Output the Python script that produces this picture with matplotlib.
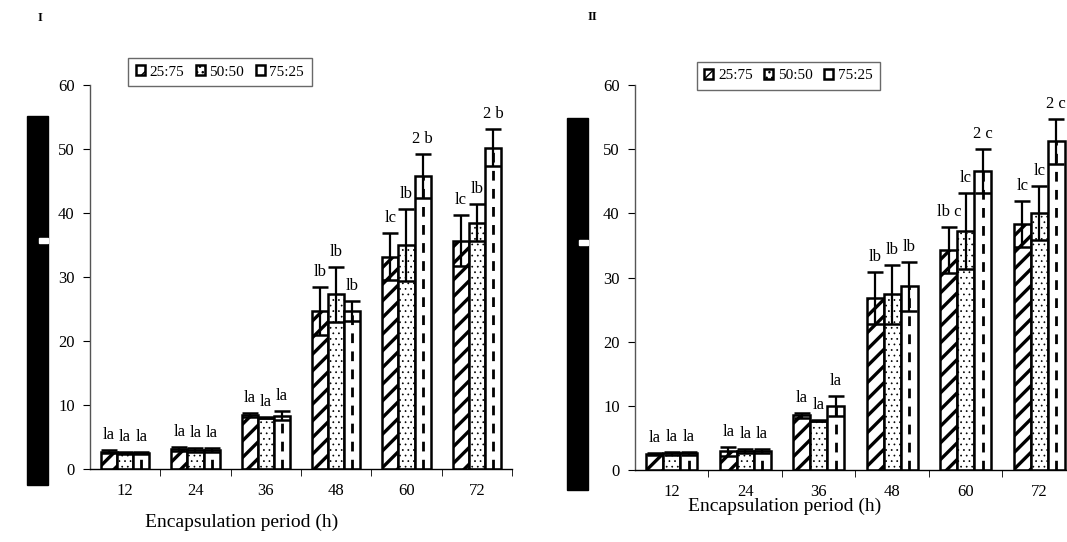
import numpy as np
import matplotlib
matplotlib.use("Agg")
import matplotlib.pyplot as plt
from matplotlib.patches import Rectangle

plt.rcParams['font.family'] = ['Liberation Serif', 'DejaVu Serif']

# DATA
periods = ['12', '24', '36', '48', '60', '72']
ratios = ['25:75', '50:50', '75:25']

# panel I
vals_1_a = [2.7, 3.1, 8.4, 24.7, 33.2, 35.7]
vals_1_b = [2.5, 3.0, 8.0, 27.3, 35.0, 38.5]
vals_1_c = [2.5, 3.0, 8.3, 24.7, 45.8, 50.2]
err_1_a = [0.2, 0.3, 0.3, 3.8, 3.7, 4.0]
err_1_b = [0.1, 0.3, 0.1, 4.3, 5.6, 2.9]
err_1_c = [0.1, 0.3, 0.7, 1.5, 3.4, 2.9]
lab_1_a = ['la', 'la', 'la', 'lb', 'lc', 'lc']
lab_1_b = ['la', 'la', 'la', 'lb', 'lb', 'lb']
lab_1_c = ['la', 'la', 'la', 'lb', '2 b', '2 b']

# panel II
vals_2_a = [2.5, 2.9, 8.5, 26.8, 34.3, 38.3]
vals_2_b = [2.6, 3.0, 7.7, 27.4, 37.2, 40.1]
vals_2_c = [2.6, 3.0, 10.0, 28.6, 46.6, 51.2]
err_2_a = [0.2, 0.7, 0.4, 4.0, 3.6, 3.6]
err_2_b = [0.2, 0.3, 0.1, 4.6, 5.9, 4.2]
err_2_c = [0.2, 0.3, 1.6, 3.8, 3.4, 3.5]
lab_2_a = ['la', 'la', 'la', 'lb', 'lb c', 'lc']
lab_2_b = ['la', 'la', 'la', 'lb', 'lc', 'lc']
lab_2_c = ['la', 'la', 'la', 'lb', '2 c', '2 c']

W = 0.23


def draw_panel(ax, vals, errs, labs):
    x = np.arange(len(periods))
    hatches = ['//', '...', '']
    hatch_lw = [2.4, 0.5, 1.0]
    for k in range(3):
        xs = x + (k - 1) * W
        plt.rcParams['hatch.linewidth'] = hatch_lw[k]
        ax.bar(xs, vals[k], W, color='white', edgecolor='black',
               linewidth=1.8, hatch=hatches[k], label=ratios[k], zorder=2)
        if k == 2:
            # dashed centre line of the 75:25 bars
            ax.vlines(xs, 0, vals[k], colors='black', linestyles=(0, (3.5, 3)),
                      linewidth=2, zorder=3)
        ax.errorbar(xs, vals[k], yerr=errs[k], fmt='none', ecolor='black',
                    elinewidth=1.6, capsize=6, capthick=1.8, zorder=4)
        for xi, v, e, t in zip(xs, vals[k], errs[k], labs[k]):
            ax.annotate(t, (xi, v + e), xytext=(0, 5), textcoords='offset points',
                        ha='center', va='bottom', fontsize=12)
    ax.set_xlim(-0.5, len(periods) - 0.5)
    ax.set_ylim(0, 60)
    ax.set_yticks(range(0, 61, 10))
    ax.set_xticks(x)
    ax.set_xticklabels(periods)
    ax.set_xticks(np.arange(0.5, len(periods), 1), minor=True)
    ax.tick_params(axis='x', which='major', length=0, pad=10, labelsize=12)
    ax.tick_params(axis='x', which='minor', length=5, direction='out')
    ax.tick_params(axis='y', length=5, direction='out', pad=6, labelsize=12)
    ax.spines['top'].set_visible(False)
    ax.spines['right'].set_visible(False)
    ax.spines['left'].set_color('#555555')
    for sp in ['left', 'bottom']:
        ax.spines[sp].set_linewidth(1.0)
    ax.spines['bottom'].set_color('black')


fig = plt.figure(figsize=(10.67, 5.42), dpi=100)

ax1 = fig.add_axes([0.0843, 0.1347, 0.3955, 0.7085])
draw_panel(ax1, [vals_1_a, vals_1_b, vals_1_c], [err_1_a, err_1_b, err_1_c],
           [lab_1_a, lab_1_b, lab_1_c])
ax2 = fig.add_axes([0.5951, 0.1328, 0.4133, 0.7104])
draw_panel(ax2, [vals_2_a, vals_2_b, vals_2_c], [err_2_a, err_2_b, err_2_c],
           [lab_2_a, lab_2_b, lab_2_c])

for ax, cx, cy in [(ax1, 0.206, 0.867), (ax2, 0.739, 0.860)]:
    h, l = ax.get_legend_handles_labels()
    leg = ax.legend(h, l, ncol=3, loc='center', bbox_to_anchor=(cx, cy),
                    bbox_transform=fig.transFigure, fontsize=11, fancybox=False,
                    frameon=True, handlelength=0.6, handleheight=0.6,
                    handletextpad=0.3, columnspacing=0.75, borderpad=0.5)
    leg.get_frame().set_edgecolor('#444444')
    leg.get_frame().set_linewidth(1.0)

fig.text(0.2268, 0.037, 'Encapsulation period (h)', ha='center', va='center', fontsize=14)
fig.text(0.7357, 0.065, 'Encapsulation period (h)', ha='center', va='center', fontsize=14)

fig.text(40 / 1067, 1 - 18 / 542, 'I', fontsize=9, fontweight='bold', ha='center', va='center')
fig.text(592 / 1067, 1 - 17 / 542, 'II', fontsize=9, fontweight='bold', ha='center', va='center')

# blacked-out y-axis titles
for x0, y0, y1, ny in [(27, 116, 485, 238), (567, 118, 490, 240)]:
    fig.patches.append(Rectangle((x0 / 1067, 1 - y1 / 542), 21 / 1067, (y1 - y0) / 542,
                                 transform=fig.transFigure, color='black'))
    fig.patches.append(Rectangle(((x0 + 12) / 1067, 1 - (ny + 5) / 542), 9 / 1067, 5 / 542,
                                 transform=fig.transFigure, color='white'))

fig.savefig('out.png', dpi=100)
